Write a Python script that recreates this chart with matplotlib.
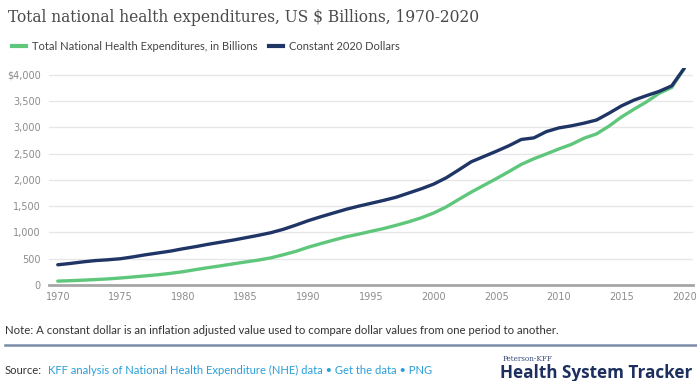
import matplotlib
matplotlib.use("Agg")
import matplotlib.pyplot as plt
from matplotlib.lines import Line2D

years = list(range(1970, 2021))
nominal = [74, 82, 92, 103, 116, 133, 153, 174, 195, 222,
           253, 293, 330, 365, 402, 439, 474, 516, 576, 640,
           720, 788, 854, 917, 967, 1022, 1074, 1136, 1202, 1278,
           1370, 1486, 1629, 1768, 1896, 2024, 2158, 2296, 2403, 2495,
           2590, 2677, 2793, 2876, 3025, 3199, 3347, 3487, 3649, 3759,
           4124]
constant = [385, 410, 440, 465, 480, 500, 535, 575, 610, 645,
            690, 730, 775, 815, 855, 900, 945, 995, 1060, 1140,
            1225, 1300, 1370, 1440, 1500, 1555, 1610, 1670, 1750, 1830,
            1920, 2040, 2190, 2345, 2445, 2545, 2650, 2770, 2800, 2920,
            2990, 3030, 3080, 3140, 3270, 3410, 3520, 3605, 3685, 3790,
            4124]
xticks = list(range(1970, 2021, 5))
yticks = [0, 500, 1000, 1500, 2000, 2500, 3000, 3500, 4000]
ylabels = ["0", "500", "1,000", "1,500", "2,000", "2,500", "3,000", "3,500", "$4,000"]

GREEN = "#5fc77c"
NAVY = "#1f3566"
GRAY = "#8c8c8c"

W, H = 697, 381
fig = plt.figure(figsize=(W / 100, H / 100), dpi=100)
fig.patch.set_facecolor("white")

ax_l, ax_r = 49, 693
ax_top, ax_bot = 68, 285
ax = fig.add_axes([ax_l / W, 1 - ax_bot / H, (ax_r - ax_l) / W, (ax_bot - ax_top) / H])
ax.plot(years, nominal, color=GREEN, lw=2.4, solid_capstyle="round", zorder=3)
ax.plot(years, constant, color=NAVY, lw=2.4, solid_capstyle="round", zorder=4)
ax.set_xlim(1969.3, 2020.7)
ax.set_ylim(0, 4130)
ax.set_xticks(xticks)
ax.set_xticklabels([str(x) for x in xticks])
ax.set_yticks(yticks)
ax.set_yticklabels(ylabels)
ax.grid(axis="y", color="#e6e6e6", lw=0.9)
ax.set_axisbelow(True)
for s in ["top", "right", "left"]:
    ax.spines[s].set_visible(False)
ax.spines["bottom"].set_color("#a6a6a6")
ax.spines["bottom"].set_linewidth(2)
ax.tick_params(axis="both", length=0, labelcolor=GRAY, pad=6)
ax.tick_params(axis="x", pad=5)
for lab in ax.get_xticklabels() + ax.get_yticklabels():
    lab.set_family("DejaVu Sans")
    lab.set_fontsize(7)

fig.text(8 / W, 1 - 17 / H, "Total national health expenditures, US $ Billions, 1970-2020",
         family="DejaVu Serif", fontsize=11.2, color="#4a4a4a", va="center", ha="left")

handles = [Line2D([], [], color=GREEN, lw=3), Line2D([], [], color=NAVY, lw=3)]
fig.legend(handles, ["Total National Health Expenditures, in Billions", "Constant 2020 Dollars"],
           loc="center left", bbox_to_anchor=(2 / W, 1 - 46 / H), ncol=2, frameon=False,
           prop={"family": "Lato", "size": 8.0}, handlelength=1.3, handletextpad=0.5,
           columnspacing=1.0, labelcolor="#444444")

fig.text(5 / W, 1 - 331 / H,
         "Note: A constant dollar is an inflation adjusted value used to compare dollar values from one period to another.",
         family="Lato", fontsize=8.2, color="#333333", va="center", ha="left")
fig.add_artist(Line2D([5 / W, 1.0], [1 - 345 / H, 1 - 345 / H], color="#7b8aa6", lw=1.8))

fig.text(5 / W, 1 - 370 / H, "Source:", family="Lato", fontsize=8.1, color="#333333",
         va="center", ha="left")
fig.text(48 / W, 1 - 370 / H,
         "KFF analysis of National Health Expenditure (NHE) data \u2022 Get the data \u2022 PNG",
         family="Lato", fontsize=8.1, color="#2a9fd8", va="center", ha="left")

fig.text(503 / W, 1 - 359 / H, "Peterson-KFF", family="DejaVu Serif", fontsize=5.2,
         color="#3a4a7a", va="center", ha="left")
fig.text(500 / W, 1 - 373 / H, "Health System Tracker", family="Open Sans", fontsize=12.3,
         fontweight="bold", color="#1c2f5e", va="center", ha="left")

fig.savefig("out.png", dpi=100, facecolor="white")
